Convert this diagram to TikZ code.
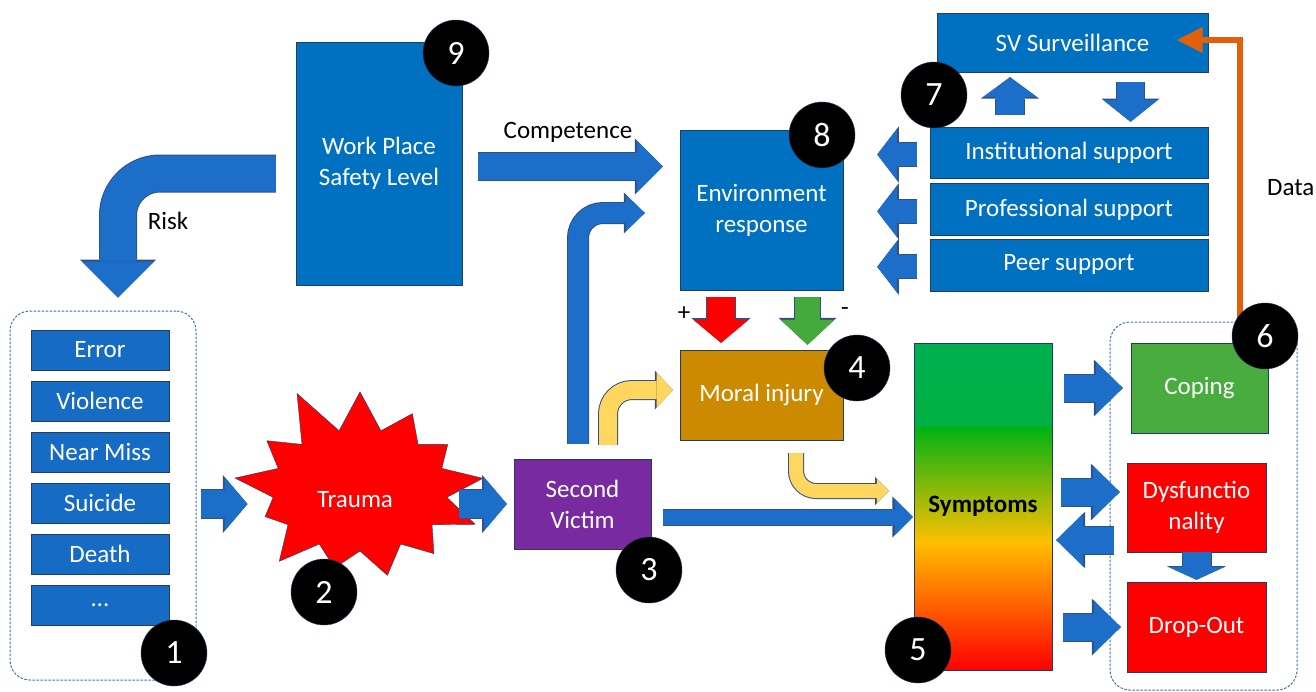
\documentclass[tikz,border=0pt]{standalone}
\usepackage{fontspec}
\setmainfont{Carlito}
\usetikzlibrary{arrows.meta,positioning,shapes.symbols,calc}
\definecolor{boxblue}{RGB}{0,112,192}
\definecolor{itemblue}{RGB}{22,108,196}
\definecolor{arrowblue}{RGB}{28,110,200}
\definecolor{arrowedge}{RGB}{50,80,130}
\definecolor{boxedge}{RGB}{35,60,100}
\definecolor{svpurple}{RGB}{122,42,160}
\definecolor{moralgold}{RGB}{204,138,0}
\definecolor{copegreen}{RGB}{72,172,62}
\definecolor{yel}{RGB}{255,215,95}
\definecolor{dataorange}{RGB}{226,96,10}
\definecolor{grpedge}{RGB}{70,110,170}
\definecolor{symtop}{RGB}{0,176,80}
\definecolor{symgreen}{RGB}{0,178,20}
\definecolor{symmid}{RGB}{255,192,0}
\definecolor{upgreen}{RGB}{68,170,60}
\begin{document}
\begin{tikzpicture}[x=1pt,y=-1pt,
  every node/.style={font=\fontsize{25}{31}\selectfont},
  box/.style={draw=boxedge, fill=boxblue, text=white, align=center, inner sep=0pt},
  item/.style={box, fill=itemblue, minimum width=138pt, minimum height=40pt},
  group/.style={draw=grpedge, line width=1pt, dash pattern=on 2.5pt off 1.5pt, rounded corners=20pt, minimum width=186pt, inner sep=0pt},
  badge/.style={circle, fill=black, draw=boxedge, text=white, minimum size=66pt, inner sep=0pt, font=\fontsize{34}{34}\selectfont},
  fat/.style n args={3}{draw=arrowblue, line width=#1pt, preaction={draw=arrowedge, line width=#1pt+2pt},
    -{Triangle[width=0pt #2, length=0pt #3, line width=0pt 0]}},
  sympic/.style={path picture={
    \shade[top color=symtop, bottom color=symgreen] (path picture bounding box.north west) rectangle ($(path picture bounding box.north east)!0.26!(path picture bounding box.south east)$);
    \shade[top color=symgreen, bottom color=symmid] ($(path picture bounding box.north west)!0.257!(path picture bounding box.south west)$) rectangle ($(path picture bounding box.north east)!0.61!(path picture bounding box.south east)$);
    \shade[top color=symmid, bottom color=red] ($(path picture bounding box.north west)!0.607!(path picture bounding box.south west)$) rectangle (path picture bounding box.south east);
  }}]
\useasboundingbox (0,0) rectangle (1316,691);

% dashed groups
\node[group, minimum height=369pt] (grp) at (103,495.5) {};
\node[group, minimum width=187pt, minimum height=368pt] (rgrp) at (1203.5,506) {};

% causes
\foreach \word [count=\i from 0] in {Error,Violence,Near Miss,Suicide,Death,\ldots}
  \node[item] (it\i) at (100,350+51*\i) {\word};

% main chain
\node[box, minimum width=166pt, minimum height=243pt] (wp) at (379,163.5) {Work Place\\Safety Level};
\node[starburst, starburst points=13, starburst point height=50pt, random starburst=11,
  fill=red, draw=boxedge, text=white, minimum width=275pt, minimum height=222pt] (tr) at (360,490) {};
\node[text=white] (trl) at (355,500) {Trauma};
\node[box, fill=svpurple, minimum width=137pt, minimum height=90pt] (sv) at (582.5,504) {Second\\Victim};
\node[box, minimum width=163pt, minimum height=160pt] (env) at (761.5,210) {Environment\\response};
\node[box, fill=moralgold, minimum width=163pt, minimum height=90pt] (mor) at (761.5,395) {Moral injury};
\node[box, sympic, text=black, minimum width=138pt, minimum height=327pt] (sym) at (983,506.5) {\textbf{Symptoms}};

% support
\node[box, minimum width=271pt, minimum height=59pt] (surv) at (1072.5,42.5) {SV Surveillance};
\node[box, minimum width=278pt, minimum height=51pt] (inst) at (1069,152.5) {Institutional support};
\node[box, minimum width=278pt, minimum height=52pt, below=5pt of inst] (prof) {Professional support};
\node[box, minimum width=278pt, minimum height=52pt, below=3pt of prof] (peer) {Peer support};

% outcomes
\node[box, fill=copegreen, minimum width=137pt, minimum height=90pt] (cop) at (1199.5,388) {Coping};
\node[box, fill=red, minimum width=139pt, minimum height=89pt] (dys) at (1196.5,507.5) {Dysfunctio\\nality};
\node[box, fill=red, minimum width=139pt, minimum height=90pt] (drop) at (1196.5,627) {Drop-Out};

% labels
\node at (168,221) {Risk};
\node at (568,132) {Competence};
\node[anchor=west, inner sep=0pt] at (1267,188) {Data};
\node at (684,314) {+};
\node at (845,312) {-};

% arrows
\draw[fat={36}{2}{1}, rounded corners=42pt, shorten <=20pt, shorten >=13pt]
  ([yshift=-10pt]wp.west) -| ([xshift=15pt]grp.north);
\draw[fat={28}{1.93}{0.82}, shorten <=4pt] (grp.east |- sv.west) -- ([xshift=51pt]grp.east |- sv.west);
\draw[fat={28}{1.93}{0.82}, shorten >=7pt] ([xshift=-55pt]sv.west) -- (sv.west);
\draw[fat={27}{1.93}{0.96}, shorten <=16pt, shorten >=17pt] ([yshift=-3pt]wp.east) -- ([yshift=-3pt]wp.east -| env.west);
\draw[fat={20}{1.85}{0.95}, rounded corners=25pt, shorten <=15pt, shorten >=35pt]
  ([xshift=-4.5pt]sv.north) |- ([yshift=-3pt]env.west);
\draw[fat={18}{1.95}{0.9}, draw=yel, rounded corners=24pt, shorten <=14pt, shorten >=7pt]
  ([xshift=25.5pt]sv.north) |- ([yshift=5pt]mor.west);
\draw[fat={14}{1.75}{0.85}, draw=yel, rounded corners=20pt, shorten <=13pt, shorten >=25pt]
  ([xshift=34.5pt]mor.south) |- ([yshift=15.5pt]sym.west);
\draw[fat={15}{2.4}{1.2}, shorten <=12pt, shorten >=1pt] ([yshift=-13pt]sv.east) -- ([yshift=-13pt]sv.east -| sym.west);
\draw[fat={28}{1.96}{0.82}, draw=red, shorten <=7pt, shorten >=7pt] ([xshift=-40.5pt]env.south) -- ([xshift=-40.5pt]mor.north);
\draw[fat={25}{2.15}{1}, draw=upgreen, shorten <=7pt, shorten >=5pt] ([xshift=46pt]env.south) -- ([xshift=46pt]mor.north);
\foreach \s in {inst,prof,peer}
  \draw[fat={23}{2.26}{0.87}, shorten <=13pt, shorten >=34pt] ([yshift=-2pt]\s.west) -- ([yshift=-2pt]\s.west -| env.east);
\draw[fat={28}{1.93}{0.71}, shorten <=12pt, shorten >=5pt] ([xshift=-59pt]inst.north) -- ([xshift=-59pt]inst.north |- surv.south);
\draw[fat={27}{2.0}{0.8}, shorten <=10pt, shorten >=5pt] ([xshift=61.5pt]surv.south -| inst.north) -- ([xshift=61.5pt]inst.north);
\draw[draw=dataorange, line width=6pt, -{Triangle[width=24pt, length=26pt]}, shorten >=104pt]
  ([xshift=36.5pt]rgrp.north) |- ([yshift=2.5pt]surv.center);
\draw[fat={27}{1.96}{1}, shorten <=12pt, shorten >=8pt] (sym.east |- cop.west) -- (cop.west);
\draw[fat={27}{1.96}{1}, shorten <=9pt, shorten >=7pt] ([yshift=15.5pt]dys.west -| sym.east) -- ([yshift=15.5pt]dys.west);
\draw[fat={27}{1.96}{1}, shorten <=13pt, shorten >=4pt] ([yshift=-32.5pt]dys.west) -- ([yshift=-32.5pt]dys.west -| sym.east);
\draw[fat={27}{1.96}{1}, shorten <=11pt, shorten >=6pt] (sym.east |- drop.west) -- (drop.west);
\draw[fat={28}{2}{0.46}, shorten >=2pt] (dys.south) -- (drop.north);

% badges
\node[badge] (b1) at (174,653) {1};
\node[badge] (b2) at (324,592) {2};
\node[badge] (b3) at (649,570) {3};
\node[badge] (b4) at (857,368) {4};
\node[badge] (b5) at (918,650) {5};
\node[badge] (b6) at (1265,336) {6};
\node[badge] (b7) at (934,95) {7};
\node[badge] (b8) at (822,135) {8};
\node[badge] (b9) at (456,53) {9};
\end{tikzpicture}
\end{document}
